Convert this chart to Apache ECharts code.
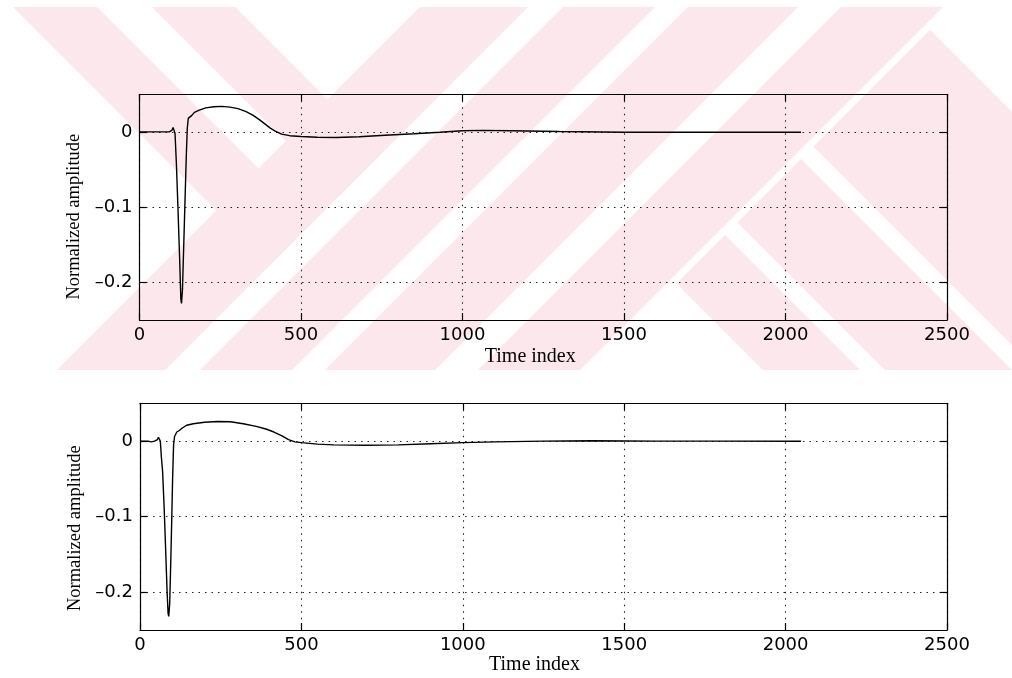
<!DOCTYPE html>
<html><head><meta charset="utf-8">
<script src="https://cdn.jsdelivr.net/npm/echarts@6/dist/echarts.min.js"></script>
<style>html,body{margin:0;padding:0;background:#fff}#c{width:1012px;height:678px}</style>
</head><body><div id="c"></div>
<script>
// ---- data ----
const xTickValues = [0, 500, 1000, 1500, 2000, 2500];
const yTickValues = [-0.2, -0.1, 0];
const xTitle = 'Time index';
const yTitle = 'Normalized amplitude';

const time1 = [0,60,92,100,104,107,110,114,119,124,128,130,133,137,141,145,148,151,156,162,170,185,205,230,255,280,305,330,352,372,390,405,420,440,465,500,550,610,680,760,850,930,1000,1060,1150,1300,1500,1750,2048];
const amp1  = [0,0,0,0.002,0.006,0.005,-0.002,-0.04,-0.10,-0.165,-0.222,-0.228,-0.21,-0.15,-0.09,-0.03,0.005,0.018,0.02,0.022,0.026,0.029,0.032,0.0335,0.034,0.033,0.031,0.027,0.022,0.016,0.01,0.005,0.001,-0.003,-0.005,-0.006,-0.007,-0.0075,-0.0065,-0.0045,-0.0025,-0.0005,0.0015,0.002,0.0015,0.0005,-0.0005,-0.0005,-0.0005];

const time2 = [0,25,35,45,50,54,57,60,63,66,70,75,80,84,87,89,92,95,98,101,104,107,111,114,118,122,130,145,165,200,240,280,320,360,390,415,440,460,480,500,550,600,700,800,900,1000,1100,1250,1400,1600,1800,2048];
const amp2  = [0,0,-0.001,0,-0.002,0.002,0.005,0.003,0.0,-0.02,-0.04,-0.09,-0.15,-0.2,-0.228,-0.232,-0.215,-0.165,-0.11,-0.05,-0.005,0.006,0.008,0.012,0.011,0.014,0.017,0.021,0.023,0.025,0.026,0.0255,0.023,0.0195,0.016,0.012,0.007,0.002,-0.001,-0.002,-0.004,-0.005,-0.0055,-0.005,-0.0035,-0.002,-0.001,0,0.0005,0,0,-0.0003];

// ---- watermark (background decoration) ----
const pink = '#fce8ec';
const Y0 = 7, Y1 = 370;
function fwd(c1, c2) { // band x+y in [c1,c2]
  return [[c1 - Y0, Y0], [c2 - Y0, Y0], [c2 - Y1, Y1], [c1 - Y1, Y1]];
}
function backTrunc(d1, d2, s) { // band x-y in [d1,d2], x+y <= s
  return [[d1 + Y0, Y0], [d2 + Y0, Y0], [(s + d2) / 2, (s - d2) / 2], [(s + d1) / 2, (s - d1) / 2]];
}
function backCut(d1, d2, s) { // band x-y in [d1,d2], x+y >= s
  return [[(s + d1) / 2, (s - d1) / 2], [(s + d2) / 2, (s - d2) / 2], [d2 + Y1, Y1], [d1 + Y1, Y1]];
}
const bands = [
  backTrunc(6, 90, 535), backTrunc(145, 228, 535),
  fwd(427, 535), fwd(570, 662), fwd(695, 805), fwd(848, 950),
  backCut(393, 490, 960), backCut(515, 642, 960), backCut(667, 900, 960)
];
const graphic = bands.map(p => ({
  type: 'polygon', z: -100, silent: true,
  shape: { points: p }, style: { fill: pink }
}));

// ---- chart ----
const black = '#000';
const gridLine = { color: '#222', width: 1.1, type: [1.5, 5] };
const frame = { color: black, width: 1.2 };
const tickLabel = { color: black, fontFamily: 'DejaVu Sans', fontSize: 18 };
const titleFont = { color: black, fontFamily: 'Liberation Serif' };
const fmtX = v => String(v);
const fmtY = v => (v < 0 ? '\u2013' + String(-v) : String(v));

const grids = [
  { left: 139.5, top: 94.3, width: 807.5, height: 225.7 },
  { left: 140, top: 403.3, width: 807, height: 226.7 }
];
const xNameGap = [27, 22];
const xNamePad = [26, 18];
const yNamePad = [19, 23];

const xAxes = [], yAxes = [], series = [];
grids.forEach((g, i) => {
  xAxes.push({
    gridIndex: i, type: 'value', min: 0, max: 2500, interval: 500, position: 'bottom',
    axisLine: { show: true, onZero: false, lineStyle: frame },
    axisTick: { show: true, inside: true, length: 7, lineStyle: frame },
    axisLabel: Object.assign({ margin: 6, formatter: fmtX }, tickLabel),
    splitLine: { show: true, lineStyle: gridLine },
    name: xTitle, nameLocation: 'middle', nameGap: xNameGap[i],
    nameTextStyle: Object.assign({ fontSize: 20, padding: [0, xNamePad[i], 0, 0] }, titleFont)
  });
  xAxes.push({
    gridIndex: i, type: 'value', min: 0, max: 2500, interval: 500, position: 'top',
    axisLine: { show: true, onZero: false, lineStyle: frame },
    axisTick: { show: true, inside: true, length: 7, lineStyle: frame },
    axisLabel: { show: false }, splitLine: { show: false }
  });
  yAxes.push({
    gridIndex: i, type: 'value', min: -0.25, max: 0.05, position: 'left',
    axisLine: { show: true, onZero: false, lineStyle: frame },
    axisTick: { show: true, inside: true, length: 7, lineStyle: frame, customValues: yTickValues },
    axisLabel: Object.assign({ margin: 7, customValues: yTickValues, formatter: fmtY }, tickLabel),
    splitLine: { show: true, lineStyle: gridLine },
    name: yTitle, nameLocation: 'middle', nameGap: 46,
    nameTextStyle: Object.assign({ fontSize: 18.5, padding: [0, yNamePad[i], 0, 0] }, titleFont)
  });
  yAxes.push({
    gridIndex: i, type: 'value', min: -0.25, max: 0.05, position: 'right',
    axisLine: { show: true, onZero: false, lineStyle: frame },
    axisTick: { show: true, inside: true, length: 7, lineStyle: frame, customValues: yTickValues },
    axisLabel: { show: false }, splitLine: { show: false }
  });
});

series.push({
  type: 'line', xAxisIndex: 0, yAxisIndex: 0, symbol: 'none', silent: true,
  data: time1.map((t, k) => [t, amp1[k]]),
  lineStyle: { color: black, width: 1.4 }
});
series.push({
  type: 'line', xAxisIndex: 2, yAxisIndex: 2, symbol: 'none', silent: true,
  data: time2.map((t, k) => [t, amp2[k]]),
  lineStyle: { color: black, width: 1.4 }
});

const chart = echarts.init(document.getElementById('c'), null, { renderer: 'canvas' });
chart.setOption({
  animation: false,
  backgroundColor: '#fff',
  graphic: graphic,
  grid: grids,
  xAxis: xAxes,
  yAxis: yAxes,
  series: series
});
</script>
</body></html>
